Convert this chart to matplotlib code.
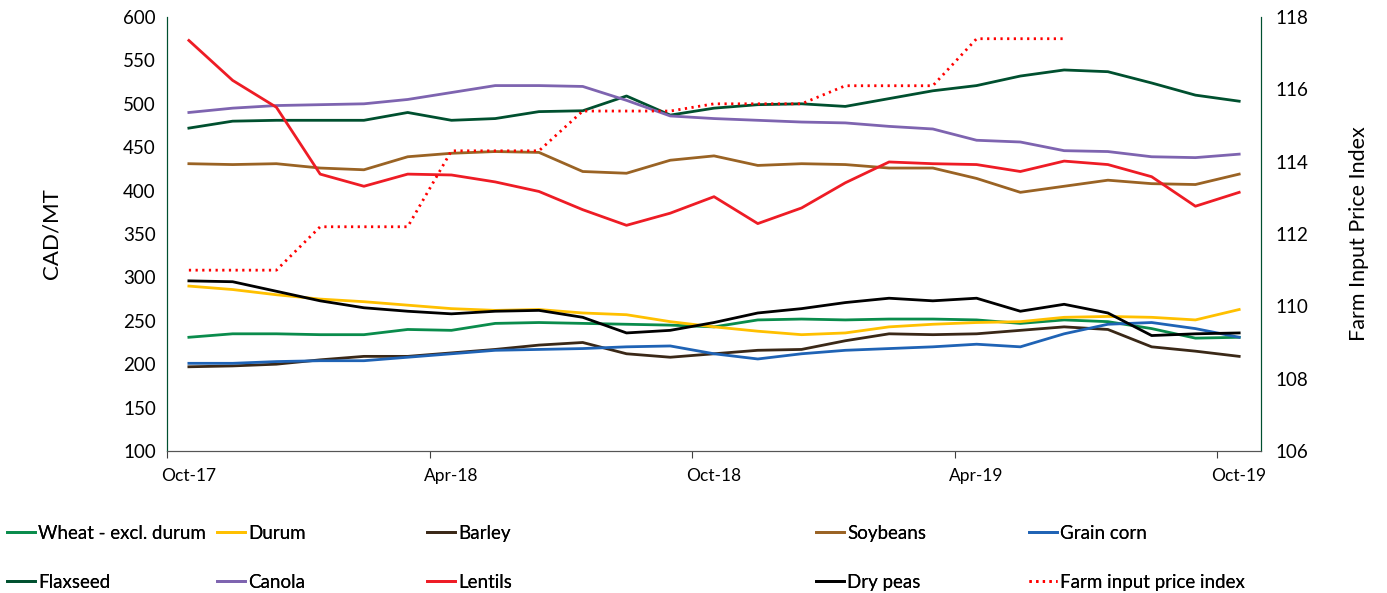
import numpy as np
import matplotlib
matplotlib.use('Agg')
import matplotlib.pyplot as plt
from matplotlib.ticker import FixedLocator, NullFormatter, FixedFormatter

plt.rcParams['font.family'] = ['Lato', 'DejaVu Sans']

# Monthly prices, Oct-17 .. Oct-19 (CAD/MT)
months = ['Oct-17', 'Nov-17', 'Dec-17', 'Jan-18', 'Feb-18', 'Mar-18', 'Apr-18', 'May-18', 'Jun-18',
          'Jul-18', 'Aug-18', 'Sep-18', 'Oct-18', 'Nov-18', 'Dec-18', 'Jan-19', 'Feb-19', 'Mar-19',
          'Apr-19', 'May-19', 'Jun-19', 'Jul-19', 'Aug-19', 'Sep-19', 'Oct-19']

wheat = [231, 235, 235, 234, 234, 240, 239, 247, 248, 247, 246, 245, 243,
         251, 252, 251, 252, 252, 251, 247, 251, 249, 241, 230, 231]
durum = [290, 286, 280, 275, 272, 268, 264, 262, 263, 259, 257, 249, 243,
         238, 234, 236, 243, 246, 248, 249, 254, 255, 254, 251, 263]
barley = [197, 198, 200, 205, 209, 209, 213, 217, 222, 225, 212, 208, 212,
          216, 217, 227, 235, 234, 235, 239, 243, 240, 220, 215, 209]
soybeans = [431, 430, 431, 426, 424, 439, 443, 445, 444, 422, 420, 435, 440,
            429, 431, 430, 426, 426, 414, 398, 405, 412, 408, 407, 419]
grain_corn = [201, 201, 203, 204, 204, 208, 212, 216, 217, 218, 220, 221, 212,
              206, 212, 216, 218, 220, 223, 220, 235, 246, 248, 241, 231]
flaxseed = [472, 480, 481, 481, 481, 490, 481, 483, 491, 492, 509, 487, 495,
            499, 500, 497, 506, 515, 521, 532, 539, 537, 524, 510, 503]
canola = [490, 495, 498, 499, 500, 505, 513, 521, 521, 520, 504, 486, 483,
          481, 479, 478, 474, 471, 458, 456, 446, 445, 439, 438, 442]
lentils = [573, 527, 496, 419, 405, 419, 418, 410, 399, 378, 360, 374, 393,
           362, 380, 409, 433, 431, 430, 422, 434, 430, 416, 382, 398]
dry_peas = [296, 295, 284, 273, 265, 261, 258, 261, 262, 254, 236, 239, 248,
            259, 264, 271, 276, 273, 276, 261, 269, 259, 233, 235, 236]

# Farm input price index (right axis), quarterly steps, ends Jun-19
farm_index = [111.0, 111.0, 111.0, 112.2, 112.2, 112.2, 114.3, 114.3, 114.3,
              115.4, 115.4, 115.4, 115.6, 115.6, 115.6, 116.1, 116.1, 116.1,
              117.4, 117.4, 117.4]

label_idx = [0, 6, 12, 18, 24]

x = np.arange(len(months))

fig = plt.figure(figsize=(13.87, 5.93), dpi=100)
ax = fig.add_axes([0.1204, 0.2395, 0.7888, 0.7318])
ax2 = ax.twinx()

lw = 2.0
series = [
    ('Wheat - excl. durum', wheat, '#0A8C4C'),
    ('Durum', durum, '#FFC000'),
    ('Barley', barley, '#3A2817'),
    ('Soybeans', soybeans, '#9A6324'),
    ('Grain corn', grain_corn, '#1F63B5'),
    ('Flaxseed', flaxseed, '#00502F'),
    ('Canola', canola, '#7E64B0'),
    ('Lentils', lentils, '#EE1C25'),
    ('Dry peas', dry_peas, '#000000'),
]
handles = {}
for name, vals, col in series:
    h, = ax.plot(x, vals, color=col, lw=lw, label=name)
    handles[name] = h

h, = ax2.plot(x[:len(farm_index)], farm_index, color='#FF0000', lw=2.0,
              linestyle=(0, (0.8, 1.6)), label='Farm input price index')
handles['Farm input price index'] = h

ax.set_xlim(-0.5, 24.5)
ax.set_ylim(100, 600)
ax.set_yticks(np.arange(100, 601, 50))
ax2.set_ylim(106, 118)
ax2.set_yticks(np.arange(106, 119, 2))

# tick marks between categories, labels on the points
ax.xaxis.set_major_locator(FixedLocator([i - 0.5 for i in label_idx]))
ax.xaxis.set_major_formatter(NullFormatter())
ax.xaxis.set_minor_locator(FixedLocator(label_idx))
ax.xaxis.set_minor_formatter(FixedFormatter([months[i] for i in label_idx]))
ax.tick_params(axis='x', which='major', length=5, color='#404040', direction='out')
ax.tick_params(axis='x', which='minor', length=0, labelsize=12.5, pad=12)
ax.tick_params(axis='y', length=0, labelsize=13.5, pad=8)
ax2.tick_params(axis='y', length=0, labelsize=13.5, pad=10)

for a in (ax, ax2):
    a.spines['top'].set_visible(False)
    a.spines['left'].set_color('#00502F')
    a.spines['right'].set_color('#00502F')
    a.spines['bottom'].set_color('#555555')

ax.set_ylabel('CAD/MT', fontsize=16, labelpad=44)
ax2.set_ylabel('Farm Input Price Index', fontsize=15.5, labelpad=30)

# legend laid out as in the source: 5 columns, 2 rows
columns = [['Wheat - excl. durum', 'Flaxseed'], ['Durum', 'Canola'], ['Barley', 'Lentils'],
           ['Soybeans', 'Dry peas'], ['Grain corn', 'Farm input price index']]
col_x = [7, 217, 427, 816, 1029]
for names, px in zip(columns, col_x):
    leg = fig.legend([handles[n] for n in names], names, loc='upper left',
                     bbox_to_anchor=(px / 1387, 1 - 525 / 593), frameon=False,
                     fontsize=13.5, handlelength=1.5, handletextpad=0.15,
                     labelspacing=1.7, borderpad=0, borderaxespad=0)
    fig.add_artist(leg)

fig.savefig('out.png', dpi=100)
